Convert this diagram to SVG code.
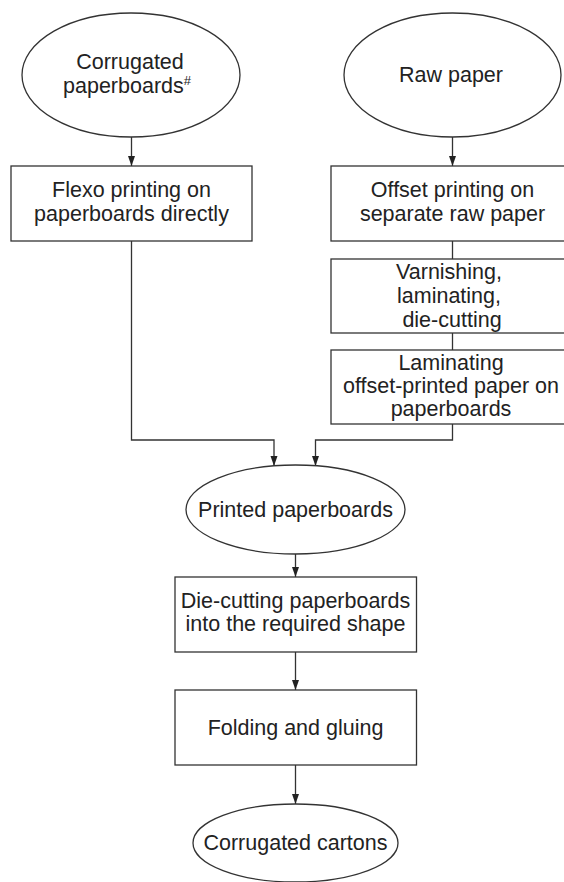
<svg xmlns="http://www.w3.org/2000/svg" width="564" height="882" viewBox="0 0 564 882">
<defs>
<style>
.shape{fill:#fff;stroke:#333;stroke-width:1.3}
.conn{fill:none;stroke:#333;stroke-width:1.3}
text{font-family:"Liberation Sans",Arial,sans-serif;font-size:21.5px;fill:#222;text-anchor:middle}
.sup{font-size:13px}
</style>
<marker id="arr" markerUnits="userSpaceOnUse" markerWidth="10" markerHeight="8" refX="10" refY="3.5" orient="auto">
<path d="M0,0 L10,3.5 L0,7 z" fill="#222"/>
</marker>
</defs>
<rect width="564" height="882" fill="#fff"/>
<g id="connectors">
<line class="conn" x1="131.5" y1="137" x2="131.5" y2="166" marker-end="url(#arr)"/>
<line class="conn" x1="452.5" y1="137" x2="452.5" y2="166" marker-end="url(#arr)"/>
<line class="conn" x1="452.5" y1="241" x2="452.5" y2="259"/>
<line class="conn" x1="452.5" y1="333" x2="452.5" y2="350"/>
<polyline class="conn" points="131.5,241 131.5,440 274,440 274,466" marker-end="url(#arr)"/>
<polyline class="conn" points="452.5,424 452.5,440 315.5,440 315.5,466" marker-end="url(#arr)"/>
<line class="conn" x1="295.5" y1="554" x2="295.5" y2="577" marker-end="url(#arr)"/>
<line class="conn" x1="295.5" y1="652" x2="295.5" y2="690" marker-end="url(#arr)"/>
<line class="conn" x1="295.5" y1="765" x2="295.5" y2="804" marker-end="url(#arr)"/>
</g>
<g id="corrugated-paperboards">
<ellipse class="shape" cx="131" cy="75" rx="109" ry="62"/>
<text x="130" y="69">Corrugated</text>
<text x="127" y="93">paperboards<tspan class="sup" dy="-8">#</tspan></text>
</g>
<g id="raw-paper">
<ellipse class="shape" cx="452.5" cy="75" rx="108.5" ry="62"/>
<text x="451" y="82">Raw paper</text>
</g>
<g id="flexo-printing">
<rect class="shape" x="11" y="166" width="241" height="75"/>
<text x="131.5" y="197">Flexo printing on</text>
<text x="131.5" y="221">paperboards directly</text>
</g>
<g id="offset-printing">
<rect class="shape" x="331" y="166" width="243" height="75"/>
<text x="452.5" y="197">Offset printing on</text>
<text x="452.5" y="221">separate raw paper</text>
</g>
<g id="varnishing">
<rect class="shape" x="331" y="259" width="243" height="74"/>
<text x="449" y="279">Varnishing,</text>
<text x="449" y="303">laminating,</text>
<text x="452" y="327">die-cutting</text>
</g>
<g id="laminating">
<rect class="shape" x="331" y="350" width="243" height="74"/>
<text x="451" y="370">Laminating</text>
<text x="451" y="393">offset-printed paper on</text>
<text x="451" y="416">paperboards</text>
</g>
<g id="printed-paperboards">
<ellipse class="shape" cx="295.5" cy="509.5" rx="109.5" ry="44.5"/>
<text x="295.5" y="517">Printed paperboards</text>
</g>
<g id="die-cutting">
<rect class="shape" x="175" y="577" width="241.5" height="75"/>
<text x="295.5" y="608">Die-cutting paperboards</text>
<text x="295.5" y="631">into the required shape</text>
</g>
<g id="folding-gluing">
<rect class="shape" x="175" y="690" width="241.5" height="75"/>
<text x="295.5" y="735">Folding and gluing</text>
</g>
<g id="corrugated-cartons">
<ellipse class="shape" cx="295.5" cy="843" rx="102.5" ry="39"/>
<text x="295.5" y="850">Corrugated cartons</text>
</g>
</svg>
